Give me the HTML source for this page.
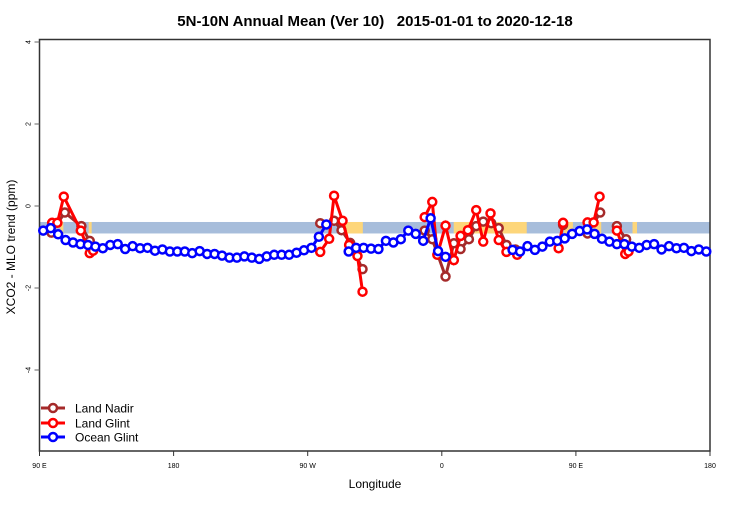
<!DOCTYPE html>
<html><head><meta charset="utf-8"><style>
body{margin:0;background:#fff;}
svg text{font-family:"Liberation Sans",sans-serif;}
</style></head><body>
<svg id="chart" width="750" height="500">
<text x="375" y="26" text-anchor="middle" font-size="15" font-weight="bold" style="white-space:pre" xml:space="preserve">5N-10N Annual Mean (Ver 10)   2015-01-01 to 2020-12-18</text>
<g id="band"></g>
<g id="axes"></g>
<g id="series"></g>
<g id="legend"></g>
<text x="375" y="488" text-anchor="middle" font-size="12">Longitude</text>
<text transform="translate(15,247) rotate(-90)" text-anchor="middle" font-size="12">XCO2 - MLO trend (ppm)</text>
</svg>
<script>
const yTicks=[4,2,0,-2,-4];
const xTickLons=[90,180,270,360,450,540];
const xTickLabels=["90 E","180","90 W","0","90 E","180"];
const oceanStart=92.5, oceanStep=5;
const oceanVals=[-0.60,-0.54,-0.69,-0.83,-0.89,-0.93,-0.95,-0.99,-1.03,-0.95,-0.93,-1.05,-0.98,-1.03,-1.02,-1.09,-1.06,-1.11,-1.11,-1.11,-1.15,-1.10,-1.17,-1.17,-1.21,-1.26,-1.26,-1.23,-1.26,-1.29,-1.23,-1.19,
-1.19,-1.19,-1.14,-1.08,-1.02,-0.75,-0.45,null,null,
-1.11,-1.02,-1.02,-1.04,-1.05,-0.85,-0.89,-0.81,-0.60,-0.68,-0.85,-0.30,-1.10,-1.24,
null,null,null,null,null,null,null,null,
-1.07,-1.11,-0.98,-1.07,-0.99,-0.87,-0.85,-0.79,-0.68,-0.61,-0.57,-0.68,-0.80,-0.87,-0.93,-0.93,-0.99,-1.02,-0.95,-0.93,-1.06,-0.98,-1.03,-1.02,-1.10,-1.06,-1.11];
const glintLons=[98.5,102,106.3,117.7,123.7,126,null,278.4,284.4,287.7,293.4,297.8,303.4,306.8,null,348.5,353.6,357,362.5,368.1,372.6,377.5,383.1,387.8,392.7,398.2,403.4,410.6,null,438.4,441.4,null,457.8,461.9,465.9,null,477.5,483.1,485.3];
const glintVals=[-0.41,-0.41,0.23,-0.6,-1.15,-1.09,null,-1.12,-0.80,0.25,-0.36,-0.95,-1.22,-2.09,null,-0.27,0.10,-1.19,-0.48,-1.32,-0.73,-0.59,-0.10,-0.87,-0.18,-0.83,-1.12,-1.19,null,-1.03,-0.41,null,-0.40,-0.40,0.23,null,-0.60,-1.17,-1.11];
const nadirLons=[98,107,118.1,123.7,null,278.4,287.7,292.7,298.5,306.8,null,348.5,353.6,362.5,368.1,372.6,378.2,383.1,387.8,393.2,398.2,403.4,409.4,null,441.4,null,457.8,466.3,null,477.5,483.7];
const nadirVals=[-0.65,-0.16,-0.49,-0.85,null,-0.42,-0.36,-0.59,-0.90,-1.54,null,-0.60,-0.81,-1.72,-0.91,-1.05,-0.81,-0.49,-0.38,-0.42,-0.54,-0.95,-1.06,null,-0.46,null,-0.67,-0.16,null,-0.49,-0.81];
const bandLow=-0.67, bandHigh=-0.39;
const yellowLonRanges=[[104,106],[123,125],[293,307],[368,417],[442,448],[462,467],[488,491]];

const NS="http://www.w3.org/2000/svg";
const X0=39.5,X1=710,LON0=90,LON1=540,Y0=206,PPU=41,YB=451,YT=39.5;
const xs=l=>X0+(l-LON0)*(X1-X0)/(LON1-LON0);
const ys=v=>Y0-v*PPU;
function mk(tag,attrs,parent){const e=document.createElementNS(NS,tag);for(const k in attrs)e.setAttribute(k,attrs[k]);parent.appendChild(e);return e;}
const band=document.getElementById('band'),axes=document.getElementById('axes'),ser=document.getElementById('series'),leg=document.getElementById('legend');
let r=mk('rect',{x:X0,y:ys(bandHigh),width:X1-X0,height:ys(bandLow)-ys(bandHigh),fill:'#a7bddb'},band);


yellowLonRanges.forEach(rg=>{const e=mk('rect',{x:xs(rg[0]),y:ys(bandHigh),width:xs(rg[1])-xs(rg[0]),height:ys(bandLow)-ys(bandHigh),fill:'#fdd67a'},band);

});
let a=mk('rect',{x:X0,y:YT,width:X1-X0,height:YB-YT,fill:'none',stroke:'#333','stroke-width':1.5},axes);


yTicks.forEach(t=>{const y=ys(t);mk('line',{x1:X0-5,x2:X0,y1:y,y2:y,stroke:'#666'},axes);
const tx=mk('text',{transform:`translate(${X0-9},${y}) rotate(-90)`,'text-anchor':'middle','font-size':7},axes);tx.textContent=t;

});
xTickLons.forEach((l,i)=>{const x=xs(l);mk('line',{x1:x,x2:x,y1:YB,y2:YB+5,stroke:'#333'},axes);
const tx=mk('text',{x:x,y:468,'text-anchor':'middle','font-size':7},axes);tx.textContent=xTickLabels[i];

});
function drawSeries(lons,vals,color,name){
 const g=mk('g',{},ser);
 
 
 let d='',pen=false;
 lons.forEach((l,i)=>{const v=vals[i];if(l==null||v==null){pen=false;return;}d+=(pen?'L':'M')+xs(l)+','+ys(v)+' ';pen=true;});
 mk('path',{d:d,fill:'none',stroke:color,'stroke-width':3},g);
 lons.forEach((l,i)=>{const v=vals[i];if(l==null||v==null)return;
  const c=mk('circle',{cx:xs(l),cy:ys(v),r:4,fill:'#fff',stroke:color,'stroke-width':2.5},g);
  
  });
}
drawSeries(nadirLons,nadirVals,'#a52a2a','land-nadir-series');
drawSeries(glintLons,glintVals,'#ff0000','land-glint-series');
const oceanLons=oceanVals.map((v,i)=>oceanStart+i*oceanStep);
drawSeries(oceanLons,oceanVals,'#0000ff','ocean-glint-series');
[['Land Nadir','#a52a2a',408],['Land Glint','#ff0000',423],['Ocean Glint','#0000ff',437]].forEach(e=>{
 const g=mk('g',{},leg);
 
 
 mk('line',{x1:41,x2:65,y1:e[2],y2:e[2],stroke:e[1],'stroke-width':3},g);
 mk('circle',{cx:53,cy:e[2],r:4,fill:'#fff',stroke:e[1],'stroke-width':2.5},g);
 const t=mk('text',{x:75,y:e[2]+4.5,'font-size':12},g);t.textContent=e[0];
});
</script>
</body></html>
